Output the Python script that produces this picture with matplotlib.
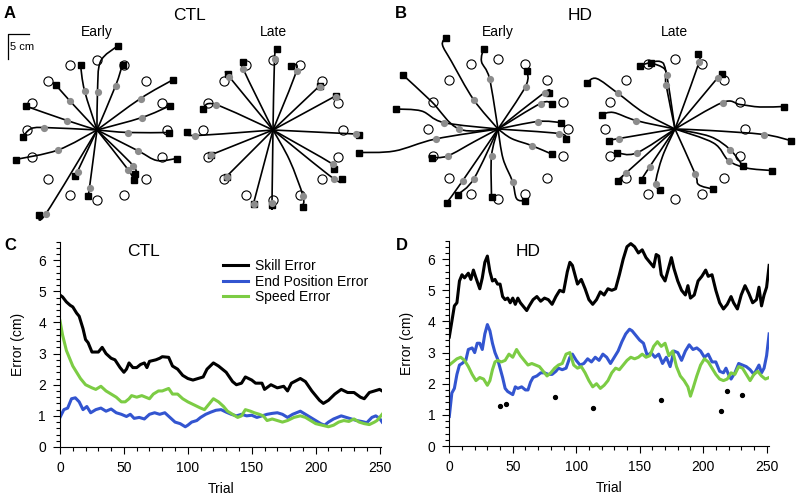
import numpy as np
import matplotlib.pyplot as plt
from matplotlib.path import Path
from matplotlib.patches import PathPatch

plt.rcParams['font.family'] = ['Liberation Sans', 'DejaVu Sans']

# ---------------- reach trajectories (cm, relative to start) ----------------
target_angles = [0, 22.5, 45, 67.5, 90, 112.5, 135, 157.5,
                 180, 202.5, 225, 247.5, 270, 292.5, 315, 337.5]
target_radius = 14.0

ctl_early_paths = [
    [(0.1, 7.7), (0.7, 13.7), (4.1, 16.8)],
    [(3.7, 8.8), (5.1, 13.1)],
    [(-2.5, 7.9), (-3.3, 13.0)],
    [(-5.5, 5.9), (-8.3, 9.1)],
    [(-6.0, 1.9), (-14.3, 4.8)],
    [(-10.7, 0.5), (-13.3, 0.2), (-14.8, -1.3)],
    [(-7.8, -4.0), (-16.3, -5.9)],
    [(-3.9, -8.3), (-4.5, -9.2)],
    [(-10.2, -16.7), (-11.7, -17.0)],
    [(-1.5, -11.5), (-1.8, -13.2)],
    [(7.2, -7.1), (7.5, -8.8)],
    [(6.2, -7.9), (7.3, -10.0)],
    [(8.1, -4.1), (12.0, -6.1), (15.9, -5.7)],
    [(6.2, -0.5), (14.3, -0.5)],
    [(9.0, 2.5), (14.5, 4.8)],
    [(8.7, 6.3), (15.1, 10.0)],
]
ctl_early_gray = [(0.1, 7.7), (3.7, 8.8), (-2.5, 7.9), (-5.5, 5.9), (-6.0, 1.9),
                  (-10.7, 0.5), (-7.8, -4.0), (-3.9, -8.3), (-10.2, -16.7),
                  (-1.5, -11.5), (7.2, -7.1), (6.2, -7.9), (8.1, -4.1),
                  (6.2, -0.5), (9.0, 2.5), (8.7, 6.3)]

ctl_late_paths = [
    [(0.3, 14.2), (0.7, 16.2)],
    [(4.7, 11.9), (3.5, 12.8)],
    [(-6.0, 12.3), (-6.0, 13.7)],
    [(-8.8, 10.7), (-9.1, 11.3)],
    [(9.3, 8.8)],
    [(12.5, 6.8)],
    [(-11.5, 5.1), (-14.0, 4.3)],
    [(-15.7, -1.1), (-17.2, -0.3)],
    [(16.5, -0.8), (17.2, -0.9)],
    [(-12.5, -5.0)],
    [(-9.3, -9.3)],
    [(-3.9, -14.7)],
    [(-0.2, -14.5), (-0.2, -15.0)],
    [(3.3, -6.0), (6.0, -13.2), (5.9, -15.3)],
    [(11.9, -6.8), (12.1, -7.7)],
    [(12.1, -9.7), (13.8, -9.8)],
]
ctl_late_gray = [(0.3, 14.2), (4.7, 11.9), (-6.0, 12.3), (-8.8, 10.7), (9.3, 8.7),
                 (12.5, 6.7), (-11.5, 5.1), (-15.7, -1.1), (16.5, -0.8),
                 (-12.5, -5.0), (-9.3, -9.3), (-3.9, -14.7), (-0.2, -14.5),
                 (6.0, -13.2), (11.9, -6.8), (12.1, -9.7)]

hd_early_paths = [
    [(-4.9, 5.9), (-9.3, 13.5), (-11.1, 16.8), (-10.5, 18.3)],
    [(-1.7, 10.1), (-3.3, 13.5), (-2.9, 16.1)],
    [(5.5, 8.5), (5.8, 11.6)],
    [(9.3, 7.3), (10.2, 7.3)],
    [(8.5, 5.1), (10.7, 5.1)],
    [(8.0, 1.5), (12.5, 1.3)],
    [(12.1, -0.9), (13.5, -1.9)],
    [(2.7, -1.9), (6.7, -3.3), (10.7, -5.0)],
    [(1.0, -5.9), (2.9, -10.5), (3.7, -13.9), (5.3, -14.4)],
    [(-1.3, -5.4), (-1.3, -13.5)],
    [(-4.8, -9.9), (-8.0, -13.1)],
    [(-7.1, -10.4), (-10.2, -14.7)],
    [(-4.7, -2.5), (-10.1, -5.4), (-13.3, -5.7)],
    [(-12.5, -2.0), (-20.7, -4.4), (-27.8, -4.7)],
    [(-10.9, 1.3), (-15.3, 3.6), (-20.5, 4.0)],
    [(-7.8, 0.0), (-13.3, 5.5), (-19.0, 10.8)],
]
hd_early_gray = [(-4.9, 5.9), (-1.7, 10.1), (5.5, 8.5), (9.3, 7.3), (8.5, 5.1),
                 (8.0, 1.5), (12.1, -0.9), (6.7, -3.3), (2.9, -10.5), (-1.3, -5.4),
                 (-4.8, -9.9), (-7.1, -10.4), (-10.1, -5.4), (-12.5, -2.0),
                 (-10.9, 1.3), (-7.8, 0.0)]

hd_late_paths = [
    [(4.8, 13.4), (4.5, 15.1)],
    [(8.5, 10.2), (9.3, 11.1)],
    [(9.5, 5.3), (13.0, 4.9), (17.0, 4.4), (21.7, 4.5)],
    [(7.0, -0.3), (17.8, -1.1), (23.1, -2.3)],
    [(7.7, -2.8), (10.7, -6.3), (14.3, -7.8), (19.3, -8.3)],
    [(7.0, -1.5), (11.0, -4.1), (13.5, -7.3)],
    [(4.0, -8.9), (4.7, -11.1), (7.5, -12.0)],
    [(-2.5, -5.5), (-3.9, -10.9), (-3.0, -12.1)],
    [(-5.1, -7.6), (-6.7, -10.1)],
    [(-9.8, -8.8), (-11.5, -10.3)],
    [(-7.7, -4.8), (-11.7, -4.7)],
    [(-11.2, -1.9), (-13.3, -2.3)],
    [(-7.8, 1.7), (-12.3, 3.3), (-14.7, 2.9)],
    [(-6.3, 3.3), (-11.5, 7.2), (-15.7, 10.1), (-17.7, 9.2)],
    [(-1.8, 8.9), (-2.0, 11.9), (-4.9, 13.3)],
    [(-1.7, 10.9), (-3.0, 13.5), (-7.1, 12.7)],
]
hd_late_gray = [(4.8, 13.4), (8.5, 10.2), (9.5, 5.3), (17.8, -1.1), (10.7, -6.3),
                (11.0, -4.1), (4.0, -8.9), (-3.9, -10.9), (-5.1, -7.6),
                (-9.8, -8.8), (-7.7, -4.8), (-11.2, -1.9), (-7.8, 1.7),
                (-11.5, 7.2), (-1.8, 8.9), (-1.7, 10.9)]

# ---------------- error time series ----------------
ctl_skill_t = [0, 2, 5, 8, 10, 13, 15, 18, 20, 22, 25, 28, 30, 33, 36, 40, 43, 47, 50, 52,
               54, 57, 60, 63, 66, 68, 70, 75, 78, 80, 85, 88, 92, 96, 100, 104, 108, 112,
               115, 120, 124, 130, 135, 138, 142, 145, 150, 153, 158, 160, 165, 170, 175,
               178, 181, 188, 192, 197, 203, 206, 210, 215, 220, 225, 230, 235, 238, 242,
               246, 250, 252]
ctl_skill = [4.88, 4.82, 4.66, 4.55, 4.5, 4.3, 4.2, 3.8, 3.45, 3.35, 3.05, 3.05, 3.05, 3.2,
             3.0, 2.85, 2.8, 2.55, 2.4, 2.5, 2.7, 2.55, 2.55, 2.65, 2.7, 2.55, 2.75, 2.8,
             2.85, 2.9, 2.88, 2.6, 2.5, 2.3, 2.2, 2.15, 2.2, 2.25, 2.5, 2.7, 2.6, 2.4, 2.1,
             2.0, 2.05, 2.25, 2.15, 2.05, 2.05, 1.85, 2.0, 1.9, 1.95, 1.8, 2.05, 2.2, 2.1,
             1.8, 1.5, 1.4, 1.5, 1.7, 1.85, 1.75, 1.75, 1.6, 1.55, 1.75, 1.8, 1.85, 1.8]

ctl_end_t = [0, 3, 6, 9, 12, 15, 18, 21, 24, 28, 32, 36, 40, 44, 48, 52, 55, 58, 62, 66,
             70, 74, 78, 82, 86, 90, 94, 98, 100, 103, 107, 110, 114, 118, 122, 126, 130,
             134, 138, 142, 146, 150, 154, 158, 162, 166, 170, 174, 178, 182, 188, 192,
             196, 200, 204, 207, 210, 214, 220, 224, 228, 232, 236, 240, 244, 247, 250, 252]
ctl_end = [0.95, 1.2, 1.25, 1.55, 1.58, 1.45, 1.2, 1.3, 1.1, 1.2, 1.25, 1.15, 1.22, 1.1,
           1.05, 0.98, 1.05, 0.92, 0.95, 0.9, 1.05, 1.1, 1.05, 1.1, 0.95, 0.8, 0.75, 0.65,
           0.7, 0.8, 0.85, 0.95, 1.05, 1.12, 1.18, 1.2, 1.12, 1.05, 1.0, 1.05, 1.0, 1.02,
           0.95, 1.0, 1.05, 1.08, 1.1, 1.05, 0.95, 1.05, 1.15, 1.05, 0.95, 0.85, 0.75, 0.7,
           0.8, 0.9, 1.0, 0.95, 0.9, 0.85, 0.82, 0.78, 0.95, 1.0, 0.92, 0.8]

ctl_speed_t = [0, 2, 5, 8, 10, 13, 16, 20, 25, 28, 32, 36, 40, 44, 48, 51, 54, 56, 60, 64,
               67, 70, 73, 77, 80, 85, 88, 92, 96, 100, 105, 110, 113, 117, 120, 124, 128,
               131, 135, 139, 142, 145, 149, 152, 156, 159, 162, 166, 170, 174, 178, 183,
               188, 192, 196, 200, 205, 210, 214, 218, 222, 226, 230, 234, 238, 242, 246,
               248, 251, 252]
ctl_speed = [4.05, 3.6, 3.1, 2.8, 2.6, 2.4, 2.2, 2.0, 1.9, 1.85, 1.95, 1.8, 1.7, 1.6, 1.45,
             1.45, 1.55, 1.65, 1.6, 1.65, 1.6, 1.55, 1.7, 1.8, 1.8, 1.88, 1.7, 1.7, 1.55,
             1.45, 1.35, 1.25, 1.2, 1.4, 1.55, 1.45, 1.3, 1.15, 1.05, 0.95, 1.0, 1.2, 1.15,
             1.1, 1.05, 1.0, 0.85, 0.9, 0.85, 0.8, 0.85, 0.95, 1.0, 0.95, 0.85, 0.75, 0.7,
             0.65, 0.7, 0.8, 0.85, 0.82, 0.9, 0.8, 0.75, 0.72, 0.8, 0.85, 1.0, 1.05]

hd_skill_t = [0, 2, 4, 6, 8, 10, 12, 15, 17, 19, 21, 24, 26, 28, 30, 32, 34, 36, 38, 40,
              42, 44, 46, 48, 50, 52, 54, 56, 59, 61, 63, 66, 69, 72, 75, 78, 81, 84, 87,
              90, 93, 95, 97, 99, 101, 104, 107, 110, 113, 116, 119, 122, 125, 128, 131,
              134, 137, 140, 143, 146, 149, 152, 155, 158, 161, 163, 165, 167, 170, 172,
              175, 177, 180, 183, 186, 188, 190, 193, 196, 199, 202, 204, 207, 210, 213,
              216, 219, 222, 224, 227, 230, 233, 236, 239, 242, 244, 246, 248, 250, 252]
hd_skill = [3.5, 4.0, 4.5, 4.6, 5.3, 5.5, 5.4, 5.55, 5.35, 5.65, 5.4, 5.05, 5.4, 5.9, 6.1,
            5.6, 5.3, 5.35, 5.2, 5.2, 4.8, 4.7, 4.75, 4.6, 4.75, 4.55, 4.75, 4.6, 4.45,
            4.35, 4.5, 4.7, 4.8, 4.65, 4.75, 4.7, 4.55, 4.8, 5.0, 4.95, 5.6, 5.9, 5.8, 5.5,
            5.2, 5.35, 5.05, 4.7, 4.55, 4.7, 4.95, 4.85, 5.05, 5.0, 5.05, 5.5, 6.0, 6.4,
            6.5, 6.4, 6.2, 6.3, 6.05, 5.9, 5.75, 6.15, 6.1, 5.5, 5.3, 5.6, 6.05, 5.7, 5.3,
            5.0, 4.85, 5.15, 4.75, 4.85, 5.3, 5.45, 5.65, 5.45, 5.5, 5.0, 4.6, 4.4, 4.55,
            4.8, 4.6, 4.4, 4.85, 5.15, 4.9, 4.6, 4.7, 5.1, 4.5, 4.85, 5.1, 5.8]

hd_end_t = [0, 2, 4, 6, 8, 10, 13, 15, 18, 20, 22, 24, 26, 28, 30, 32, 34, 36, 38, 40, 42,
            44, 46, 48, 50, 52, 54, 57, 60, 62, 64, 66, 69, 72, 75, 78, 81, 84, 86, 89, 92,
            95, 97, 100, 103, 106, 109, 112, 115, 118, 121, 124, 127, 130, 133, 136, 139,
            142, 144, 147, 150, 153, 156, 159, 162, 165, 168, 171, 174, 177, 180, 183, 186,
            189, 192, 195, 198, 201, 204, 207, 210, 213, 216, 218, 220, 222, 225, 228, 231,
            234, 237, 240, 242, 244, 246, 248, 250, 252]
hd_end = [0.95, 1.7, 1.85, 2.3, 2.6, 2.65, 2.75, 3.1, 3.15, 3.0, 3.3, 3.3, 3.1, 3.6, 3.9,
          3.7, 3.3, 3.0, 2.8, 2.5, 2.2, 1.85, 1.75, 1.7, 1.65, 1.9, 1.85, 1.9, 1.8, 1.8,
          2.05, 2.2, 2.25, 2.35, 2.35, 2.3, 2.3, 2.4, 2.5, 2.45, 2.5, 2.85, 2.95, 2.75, 2.6,
          2.65, 2.8, 2.7, 2.85, 2.75, 2.95, 2.85, 2.65, 2.85, 3.05, 3.35, 3.6, 3.75, 3.7,
          3.55, 3.4, 3.3, 2.9, 3.0, 2.85, 2.95, 2.65, 2.85, 2.55, 3.05, 3.0, 2.75, 3.05,
          3.25, 3.1, 3.15, 3.05, 2.85, 2.95, 2.7, 2.7, 2.4, 2.35, 2.5, 2.3, 2.15, 2.35,
          2.65, 2.6, 2.55, 2.45, 2.3, 2.45, 2.6, 2.35, 2.5, 2.9, 3.6]

hd_speed_t = [0, 3, 6, 9, 12, 15, 18, 21, 24, 27, 30, 32, 34, 36, 38, 41, 44, 47, 50, 53,
              56, 59, 62, 65, 68, 71, 74, 77, 80, 83, 86, 89, 92, 95, 98, 101, 104, 107,
              110, 113, 116, 119, 122, 125, 128, 131, 134, 137, 140, 143, 146, 149, 152,
              155, 158, 161, 164, 167, 170, 173, 176, 179, 182, 185, 188, 190, 192, 195,
              198, 201, 204, 207, 210, 213, 216, 219, 222, 225, 228, 231, 234, 237, 240,
              243, 246, 249, 252]
hd_speed = [2.6, 2.7, 2.8, 2.85, 2.75, 2.55, 2.3, 2.1, 2.2, 2.15, 1.95, 2.1, 2.45, 2.7,
            2.75, 2.7, 2.75, 2.95, 2.85, 3.1, 2.9, 2.75, 2.6, 2.65, 2.6, 2.55, 2.4, 2.25,
            2.35, 2.5, 2.6, 2.65, 2.95, 3.0, 2.6, 2.5, 2.55, 2.35, 2.1, 1.9, 2.0, 1.85,
            1.95, 2.1, 2.35, 2.5, 2.45, 2.6, 2.75, 2.85, 2.8, 2.85, 2.95, 2.85, 2.9, 3.2,
            3.35, 3.2, 3.3, 2.9, 3.05, 2.55, 2.25, 2.1, 1.9, 1.6, 1.85, 2.25, 2.6, 2.8, 2.7,
            2.5, 2.3, 2.15, 2.1, 2.15, 2.35, 2.3, 2.55, 2.5, 2.3, 2.1, 2.3, 2.4, 2.25, 2.15,
            2.2]

# significant trials (HD)
sig_t = [40, 44.5, 83, 113, 167, 214, 218.5, 230.5]
sig_v = [1.27, 1.35, 1.56, 1.22, 1.47, 1.13, 1.78, 1.65]

BLUE = '#3355d0'
GREEN = '#7ccc44'
GRAY = '#8c8c8c'

W, H = 799, 500
fig = plt.figure(figsize=(W / 100, H / 100), dpi=100)


def smooth(points):
    # Catmull-Rom curve through the start and the waypoints, as bezier segments
    pts = np.array([(0.0, 0.0)] + list(points), dtype=float)
    n = len(pts)
    verts = [pts[0]]
    codes = [Path.MOVETO]
    for i in range(n - 1):
        p0 = pts[max(i - 1, 0)]
        p1 = pts[i]
        p2 = pts[i + 1]
        p3 = pts[min(i + 2, n - 1)]
        verts += [p1 + (p2 - p0) / 6.0, p2 - (p3 - p1) / 6.0, p2]
        codes += [Path.CURVE4] * 3
    return Path(verts, codes)


def star(cx, cy, paths, gray):
    # 5 px per cm, axes box 190 px square around the start position
    ax = fig.add_axes([(cx - 95) / W, (H - cy - 95) / H, 190 / W, 190 / H])
    ax.set_xlim(-19, 19)
    ax.set_ylim(-19, 19)
    ax.axis('off')
    a = np.radians(target_angles)
    ax.plot(target_radius * np.cos(a), target_radius * np.sin(a), 'o', ms=6.6,
            mfc='white', mec='black', mew=0.8, ls='none', clip_on=False, zorder=1)
    for p in paths:
        ax.add_patch(PathPatch(smooth(p), fc='none', ec='black', lw=1.2,
                               clip_on=False, zorder=2))
    ends = np.array([p[-1] for p in paths])
    ax.plot(ends[:, 0], ends[:, 1], 's', ms=5, color='black', ls='none',
            clip_on=False, zorder=3)
    g = np.array(gray)
    ax.plot(g[:, 0], g[:, 1], 'o', ms=5.2, color=GRAY, mec='none', ls='none',
            clip_on=False, zorder=4)
    return ax


ax_a1 = star(97, 130, ctl_early_paths, ctl_early_gray)
star(273, 130, ctl_late_paths, ctl_late_gray)
star(498, 129, hd_early_paths, hd_early_gray)
star(675, 129, hd_late_paths, hd_late_gray)

# 5 cm scale bar
ax_a1.plot([-17.8, -17.8, -13.6], [14.2, 19.2, 19.2], color='black', lw=0.9,
           clip_on=False)
fig.text(10 / W, 1 - 47 / H, '5 cm', fontsize=8, va='center', ha='left')

# top labels
fig.text(10 / W, 1 - 14 / H, 'A', fontsize=12, fontweight='bold', ha='center', va='center')
fig.text(401 / W, 1 - 14 / H, 'B', fontsize=12, fontweight='bold', ha='center', va='center')
fig.text(189 / W, 1 - 16 / H, 'CTL', fontsize=12.5, ha='center', va='center')
fig.text(580 / W, 1 - 16 / H, 'HD', fontsize=12.5, ha='center', va='center')
for x, s in [(97, 'Early'), (273, 'Late'), (498, 'Early'), (674, 'Late')]:
    fig.text(x / W, 1 - 32 / H, s, fontsize=10, ha='center', va='center')


def error_axes(left, right, bottom):
    ax = fig.add_axes([left / W, (H - bottom) / H, (right - left) / W, 205.5 / H])
    ax.set_xlim(0, 251.5)
    ax.set_ylim(0, 6.6)
    ax.spines[['top', 'right']].set_visible(False)
    ax.spines[['left', 'bottom']].set_linewidth(0.8)
    ax.set_xticks([0, 50, 100, 150, 200, 250])
    ax.set_xticks(np.arange(0, 251, 10), minor=True)
    ax.set_yticks([0, 1, 2, 3, 4, 5, 6])
    ax.set_yticks(np.arange(0, 6.61, 0.2), minor=True)
    ax.tick_params(which='major', length=5, width=0.8, labelsize=10, pad=5)
    ax.tick_params(which='minor', length=3, width=0.8)
    ax.set_xlabel('Trial', fontsize=10)
    ax.set_ylabel('Error (cm)', fontsize=10)
    ax.xaxis.set_label_coords(0.5, -0.17)
    ax.yaxis.set_label_coords(-0.11, 0.5)
    return ax


ax_c = error_axes(60, 381.5, 447)
ax_c.plot(ctl_skill_t, ctl_skill, color='black', lw=2.2, label='Skill Error')
ax_c.plot(ctl_end_t, ctl_end, color=BLUE, lw=2.2, label='End Position Error')
ax_c.plot(ctl_speed_t, ctl_speed, color=GREEN, lw=2.2, label='Speed Error')
ax_c.legend(loc='upper left', bbox_to_anchor=(0.508, 0.915), frameon=False, fontsize=10,
            handlelength=1.75, handletextpad=0.55, labelspacing=0.12, borderpad=0,
            borderaxespad=0)

ax_d = error_axes(449.3, 768.5, 446)
ax_d.plot(hd_skill_t, hd_skill, color='black', lw=2.2)
ax_d.plot(hd_end_t, hd_end, color=BLUE, lw=2.2)
ax_d.plot(hd_speed_t, hd_speed, color=GREEN, lw=2.2)
ax_d.plot(sig_t, sig_v, 'o', color='black', ms=2.8, ls='none')

fig.text(10 / W, 1 - 246 / H, 'C', fontsize=12, fontweight='bold', ha='center', va='center')
fig.text(402 / W, 1 - 246 / H, 'D', fontsize=12, fontweight='bold', ha='center', va='center')
fig.text(143 / W, 1 - 252 / H, 'CTL', fontsize=12.5, ha='center', va='center')
fig.text(528 / W, 1 - 252 / H, 'HD', fontsize=12.5, ha='center', va='center')

fig.savefig('out.png', dpi=100)
